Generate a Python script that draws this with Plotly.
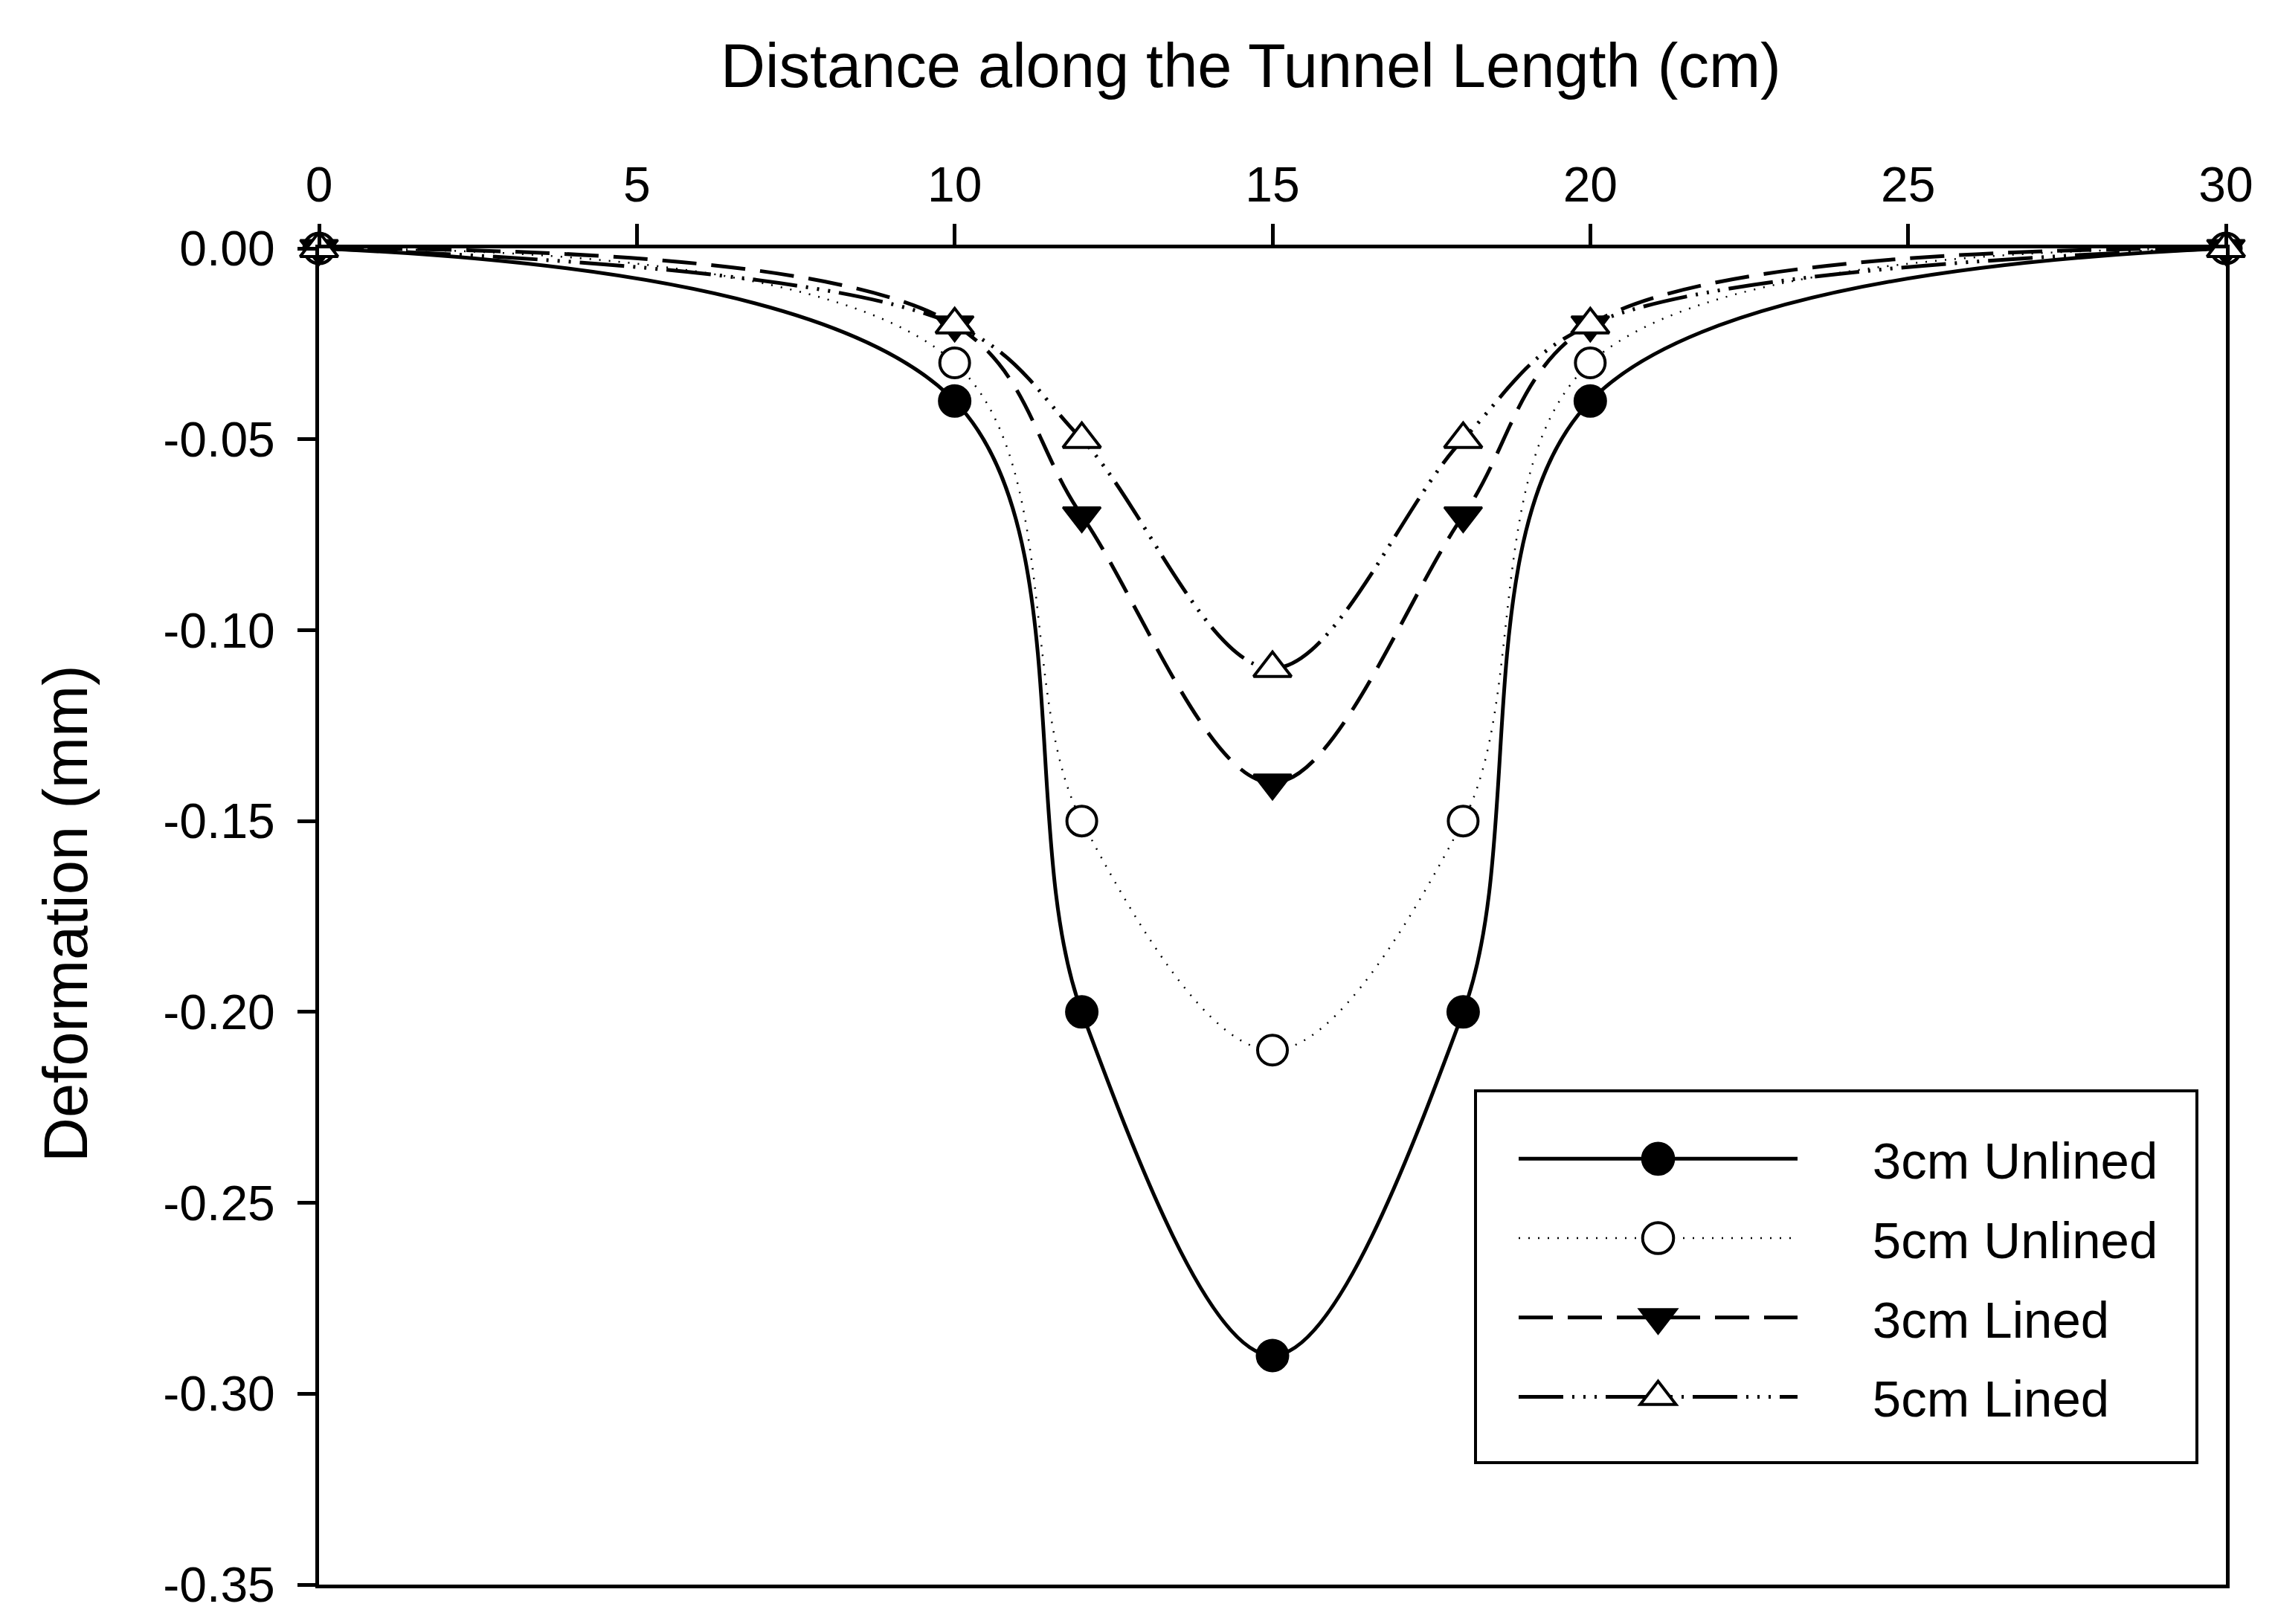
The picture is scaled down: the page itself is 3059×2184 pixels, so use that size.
import plotly.graph_objects as go

distance_cm = [0, 10, 12, 15, 18, 20, 30]
unlined_3cm = [0.0, -0.04, -0.20, -0.29, -0.20, -0.04, 0.0]
unlined_5cm = [0.0, -0.03, -0.15, -0.21, -0.15, -0.03, 0.0]
lined_3cm = [0.0, -0.02, -0.07, -0.14, -0.07, -0.02, 0.0]
lined_5cm = [0.0, -0.02, -0.05, -0.11, -0.05, -0.02, 0.0]

series_names = ["3cm Unlined", "5cm Unlined", "3cm Lined", "5cm Lined"]
x_ticks = [0, 5, 10, 15, 20, 25, 30]
y_ticks = [0.0, -0.05, -0.10, -0.15, -0.20, -0.25, -0.30, -0.35]

FONT = "Liberation Sans, Arial, sans-serif"
# page body has an 8px margin; figure sized so it fits the window exactly
W, H = 3043, 2168
L, T = 421, 326
PR, PB = 2985, 2123          # plot right / bottom in figure px
R, B = W - PR, H - PB
PW, PH = PR - L, PB - T


def px_x(v):
    return (v - L) / PW


def px_y(v):
    return (PB - v) / PH


styles = [
    dict(line=dict(color="black", width=5, dash="solid"),
         marker=dict(symbol="circle", size=42, color="black", line=dict(color="black", width=3))),
    dict(line=dict(color="black", width=2.5, dash="2px,11px"),
         marker=dict(symbol="circle", size=40, color="white", line=dict(color="black", width=4))),
    dict(line=dict(color="black", width=5, dash="46px,20px"),
         marker=dict(symbol="triangle-down", size=44, color="black", line=dict(color="black", width=3))),
    dict(line=dict(color="black", width=5, dash="60px,12px,3px,12px,3px,12px,3px,12px"),
         marker=dict(symbol="triangle-up", size=44, color="white", line=dict(color="black", width=4))),
]

NB = "\u00a0" * 5
fig = go.Figure()
for name, ys, st in zip(series_names, [unlined_3cm, unlined_5cm, lined_3cm, lined_5cm], styles):
    fig.add_trace(go.Scatter(
        x=distance_cm, y=ys, name=NB + name, mode="lines+markers",
        line=dict(shape="spline", smoothing=1.0, **st["line"]),
        marker=st["marker"], legendgroup=name, cliponaxis=False,
    ))

fig.update_layout(
    width=W, height=H,
    margin=dict(l=L, r=R, t=T, b=B, autoexpand=False),
    paper_bgcolor="white", plot_bgcolor="white",
    font=dict(family=FONT, size=66, color="black"),
    showlegend=True,
    legend=dict(
        x=px_x(2029), y=px_y(1499),
        xanchor="left", yanchor="top",
        borderwidth=0, bgcolor="rgba(0,0,0,0)",
        font=dict(family=FONT, size=69, color="black"),
        itemwidth=375, tracegroupgap=14, traceorder="grouped",
    ),
    shapes=[dict(type="rect", xref="paper", yref="paper",
                 x0=px_x(1976), x1=px_x(2946), y0=px_y(1959), y1=px_y(1459),
                 line=dict(color="black", width=4), fillcolor="rgba(0,0,0,0)", layer="above")],
    annotations=[
        dict(text="Distance along the Tunnel Length (cm)", xref="paper", yref="paper",
             x=px_x(1674), y=px_y(80), xanchor="center", yanchor="middle", showarrow=False,
             font=dict(family=FONT, size=83)),
        dict(text="Deformation (mm)", xref="paper", yref="paper", textangle=-90,
             x=px_x(80), y=px_y(1221), xanchor="center", yanchor="middle", showarrow=False,
             font=dict(family=FONT, size=83)),
    ],
)

fig.update_xaxes(
    side="top", range=[0, 30], tickvals=x_ticks, ticktext=[str(v) for v in x_ticks],
    showline=True, linecolor="black", linewidth=5, mirror=True,
    ticks="outside", ticklen=28, tickwidth=5, tickcolor="black",
    showgrid=False, zeroline=False, ticklabelstandoff=4,
    tickfont=dict(family=FONT, size=66),
)
fig.update_yaxes(
    range=[-0.35, 0.0], tickvals=y_ticks, ticktext=[f"{v:.2f}" for v in y_ticks],
    showline=True, linecolor="black", linewidth=5, mirror=True,
    ticks="outside", ticklen=24, tickwidth=5, tickcolor="black",
    showgrid=False, zeroline=False,
    tickfont=dict(family=FONT, size=66),
    ticklabelstandoff=17,
)

# plotly caps legend marker size at 16px; enlarge the legend symbols to match the plot markers
post = """
var gd = document.getElementById('{plot_id}');
gd.querySelectorAll('.legend path.scatterpts').forEach(function(p){
  var t = p.getAttribute('transform') || '';
  p.setAttribute('transform', t + ' scale(2.6)');
  p.style.vectorEffect = 'non-scaling-stroke';
  p.style.strokeWidth = '4px';
});
"""
fig.write_html("out.html", post_script=post)
